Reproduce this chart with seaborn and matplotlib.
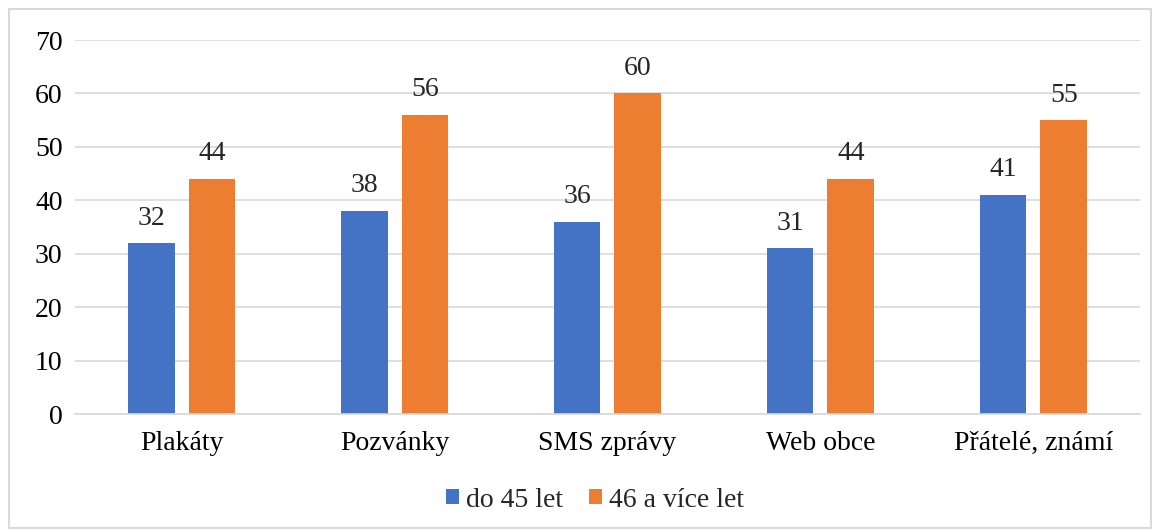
import pandas as pd
import matplotlib.pyplot as plt
import seaborn as sns
from matplotlib.patches import Rectangle

categories = ["Plakáty", "Pozvánky", "SMS zprávy", "Web obce", "Přátelé, známí"]
series_names = ["do 45 let", "46 a více let"]
young = [32, 38, 36, 31, 41]
older = [44, 56, 60, 44, 55]
colors = ["#4472C4", "#ED7D31"]
y_ticks = [0, 10, 20, 30, 40, 50, 60, 70]

df = pd.DataFrame({
    "kategorie": categories * 2,
    "skupina": [series_names[0]] * len(categories) + [series_names[1]] * len(categories),
    "hodnota": young + older,
})

sns.set_theme(style="white")
plt.rcParams["font.family"] = ["Liberation Serif", "DejaVu Serif"]
fs = 20

fig = plt.figure(figsize=(11.6, 5.32), dpi=100)
ax = fig.add_axes([0.0647, 0.2218, 0.918, 0.703])

sns.barplot(data=df, x="kategorie", y="hodnota", hue="skupina",
            palette=colors, width=0.571, gap=0.23, ax=ax,
            saturation=1, legend=True, linewidth=0)

ax.set_ylim(0, 70)
ax.set_yticks(y_ticks)
ax.yaxis.grid(True, color="#d9d9d9", linewidth=1.2)
ax.set_axisbelow(True)
for side in ["top", "right", "left"]:
    ax.spines[side].set_visible(False)
ax.spines["bottom"].set_color("#d9d9d9")
ax.spines["bottom"].set_linewidth(1.2)
ax.tick_params(axis="both", length=0, labelsize=fs, colors="black")
ax.tick_params(axis="y", pad=9)
ax.tick_params(axis="x", pad=12)
ax.set_xlabel("")
ax.set_ylabel("")

for cont in ax.containers:
    ax.bar_label(cont, fontsize=fs, padding=9)

handles, labels = ax.get_legend_handles_labels()
ax.legend(handles, labels, loc="center", bbox_to_anchor=(0.513, 0.06),
          bbox_transform=fig.transFigure, ncol=2, frameon=False,
          fontsize=fs, handlelength=0.47, handleheight=0.47,
          handletextpad=0.25, columnspacing=0.95)

fig.patches.append(Rectangle((0.008, 0.008), 0.984, 0.975, transform=fig.transFigure,
                             fill=False, edgecolor="#d9d9d9", linewidth=1.5))

fig.savefig("out.png", dpi=100, facecolor="white")
